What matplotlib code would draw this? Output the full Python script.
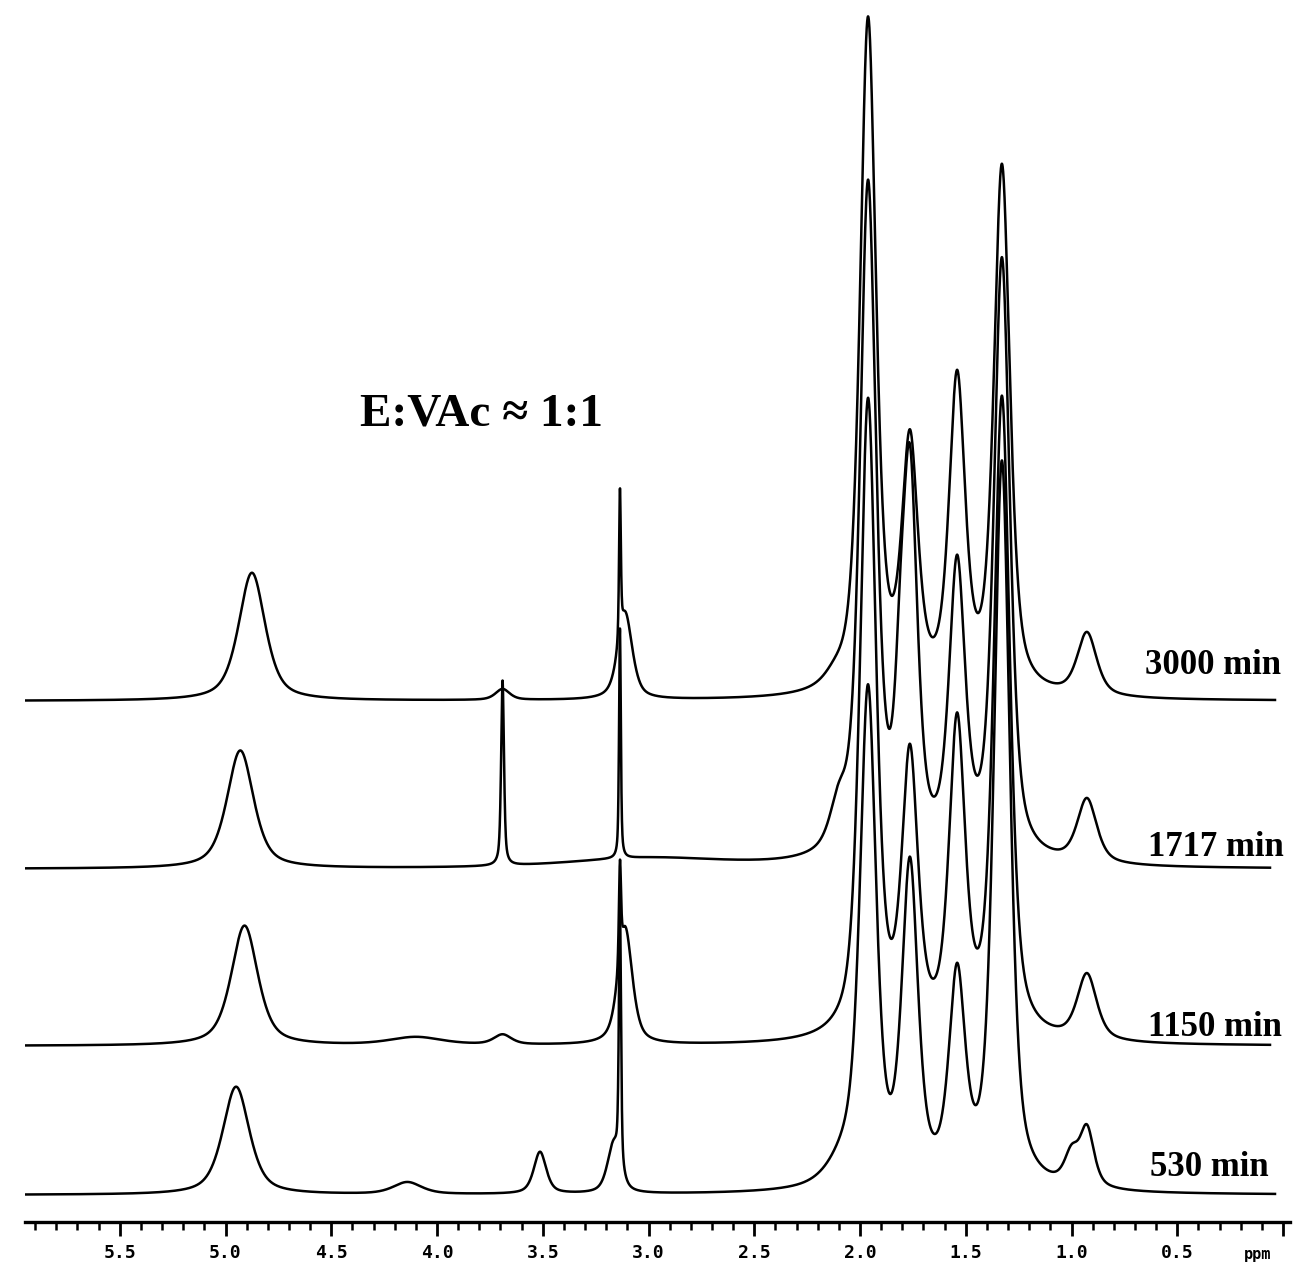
import numpy as np
import matplotlib
matplotlib.use("Agg")
import matplotlib.pyplot as plt
from matplotlib.ticker import MultipleLocator, FixedLocator

# ---------------------------------------------------------------------------
# 1H NMR spectra of E/VAc copolymerisation, stacked by reaction time
# ---------------------------------------------------------------------------

trace_labels = ["3000 min", "1717 min", "1150 min", "530 min"]

# peaks: (shift ppm, height, half width ppm)
peaks_3000 = [(4.875, 128, 0.075), (3.135, 149, 0.005), (3.11, 85, 0.04),
              (3.69, 11, 0.04), (2.12, 8, 0.06), (1.962, 673, 0.045),
              (1.764, 241, 0.045), (1.541, 307, 0.045), (1.329, 525, 0.045),
              (0.927, 63, 0.055)]
peaks_1717 = [(4.93, 118, 0.075), (3.135, 230, 0.005), (3.69, 185, 0.008),
              (3.0, 10, 0.45), (2.10, 40, 0.05), (1.962, 670, 0.045),
              (1.81, 90, 0.03), (1.764, 370, 0.042), (1.541, 285, 0.045),
              (1.329, 599, 0.045), (0.927, 64, 0.055)]
peaks_1150 = [(4.91, 120, 0.075), (4.1, 8, 0.15), (3.135, 100, 0.006),
              (3.11, 115, 0.04), (3.69, 10, 0.05), (1.962, 636, 0.045),
              (1.764, 272, 0.045), (1.541, 306, 0.045), (1.329, 638, 0.045),
              (0.927, 66, 0.055)]
peaks_530 = [(4.95, 108, 0.075), (4.14, 12, 0.08), (3.135, 260, 0.006),
             (3.165, 48, 0.035), (3.513, 42, 0.035), (2.06, 25, 0.1),
             (1.962, 485, 0.045), (1.764, 313, 0.045), (1.541, 202, 0.045),
             (1.329, 725, 0.045), (1.0, 30, 0.04), (0.927, 58, 0.04)]

all_peaks = [peaks_3000, peaks_1717, peaks_1150, peaks_530]

tick_values = [5.5, 5.0, 4.5, 4.0, 3.5, 3.0, 2.5, 2.0, 1.5, 1.0, 0.5]
title_text = "E:VAc \u2248 1:1"


def line_shape(x, c, h, w, eta=0.6):
    lor = 1.0 / (1.0 + ((x - c) / w) ** 2)
    gau = np.exp(-np.log(2) * ((x - c) / w) ** 2)
    return h * (eta * lor + (1 - eta) * gau)


W, H = 1296, 1266
fig = plt.figure(figsize=(W / 100, H / 100), dpi=100)
ax_left, ax_right, ax_bottom = 25, 1290, 44
ax = fig.add_axes([ax_left / W, ax_bottom / H, (ax_right - ax_left) / W, (H - ax_bottom) / H])

ppm = lambda px: (1283 - px) / 211.5
ax.set_xlim(ppm(ax_left), ppm(ax_right))
ax.set_ylim(0, H - ax_bottom)

# baselines in pixels from the top of the image
base_px = [701, 869, 1046, 1195]
baselines = [H - ax_bottom - b for b in base_px]
starts = [ppm(15), ppm(20), ppm(15), ppm(25)]
ends = [ppm(1275), ppm(1270), ppm(1270), ppm(1275)]

for peaks, base, x0, x1 in zip(all_peaks, baselines, starts, ends):
    x = np.linspace(x0, x1, 8000)
    y = np.zeros_like(x)
    for c, h, w in peaks:
        y += line_shape(x, c, h, w)
    ax.plot(x, y + base, color="black", lw=1.8, solid_joinstyle="round")

label_y = [666, 847, 1027, 1167]
label_x = [1145, 1148, 1148, 1150]
for lab, xp, yp in zip(trace_labels, label_x, label_y):
    ax.text(ppm(xp), H - yp - ax_bottom, lab, fontsize=25, fontweight="bold",
            family="Liberation Serif", ha="left", va="center")

ax.text(ppm(482), H - 415 - ax_bottom, title_text, fontsize=34, fontweight="bold",
        family="Liberation Serif", ha="center", va="center")

for s in ["top", "left", "right"]:
    ax.spines[s].set_visible(False)
ax.spines["bottom"].set_linewidth(2.4)
ax.set_yticks([])
ax.xaxis.set_major_locator(FixedLocator(tick_values + [0.0]))
ax.xaxis.set_minor_locator(MultipleLocator(0.1))
ax.set_xticklabels([f"{v:.1f}" for v in tick_values] + [""])
ax.tick_params(axis="x", which="major", length=10, width=2.0, pad=6,
               labelsize=13)
ax.tick_params(axis="x", which="minor", length=6, width=1.8)
for lab in ax.get_xticklabels():
    lab.set_fontfamily("DejaVu Sans Mono")
    lab.set_fontweight("bold")
ax.text(ppm(1258), -33, "ppm", fontsize=11, fontweight="bold",
        family="DejaVu Sans Mono", ha="center", va="center")

fig.savefig("out.png", dpi=100, facecolor="white")
